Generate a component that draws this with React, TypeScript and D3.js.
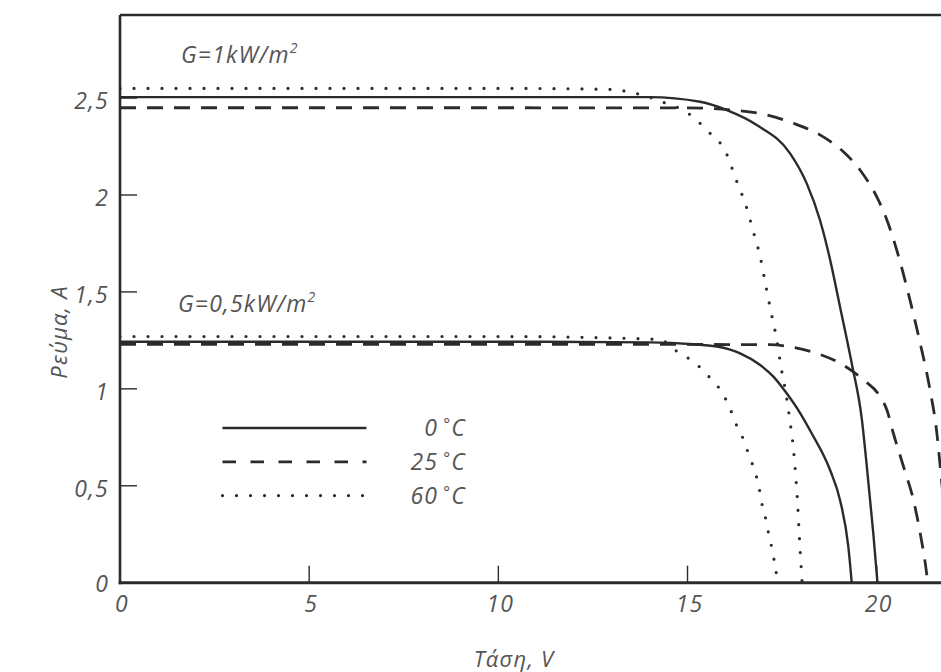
import React from "react";
import * as d3 from "d3";

// I–V curves: [voltage V, current A]
const g1_0C: [number, number][] = [
  [0, 2.505], [10, 2.505], [14.0, 2.505], [15.33, 2.481], [16.04, 2.438], [16.83, 2.361],
  [17.71, 2.215], [18.15, 2.06], [18.5, 1.871], [18.77, 1.665], [19.03, 1.424],
  [19.34, 1.132], [19.61, 0.839], [19.74, 0.598], [19.91, 0.255], [20.02, 0],
];
const g1_25C: [number, number][] = [
  [0, 2.45], [10, 2.45], [15.0, 2.449], [16.21, 2.438], [17.09, 2.413], [17.8, 2.37],
  [18.5, 2.31], [19.12, 2.223], [19.56, 2.129], [20.0, 1.991], [20.27, 1.871],
  [20.53, 1.716], [20.88, 1.458], [21.15, 1.235], [21.41, 0.994], [21.59, 0.772],
  [21.68, 0.597], [21.82, 0.3], [21.95, 0],
];
const g1_60C: [number, number][] = [
  [0, 2.55], [10, 2.55], [12.9, 2.545], [13.61, 2.525], [14.32, 2.481], [15.02, 2.421],
  [15.55, 2.327], [16.02, 2.218], [16.28, 2.081], [16.54, 1.948], [16.74, 1.811],
  [16.92, 1.682], [17.07, 1.531], [17.21, 1.393], [17.36, 1.252], [17.47, 1.114],
  [17.6, 0.977], [17.71, 0.831], [17.8, 0.688], [17.86, 0.55], [17.91, 0.41],
  [17.95, 0.258], [17.99, 0.121], [18.03, 0],
];
const g05_0C: [number, number][] = [
  [0, 1.243], [10, 1.243], [14.0, 1.24], [15.15, 1.23], [15.82, 1.217], [16.39, 1.183],
  [16.92, 1.123], [17.27, 1.063], [17.62, 0.977], [17.98, 0.874], [18.28, 0.771],
  [18.77, 0.58], [19.03, 0.427], [19.25, 0.186], [19.34, 0],
];
const g05_25C: [number, number][] = [
  [0, 1.23], [10, 1.23], [17.18, 1.228], [17.71, 1.217], [18.42, 1.183], [19.03, 1.132],
  [19.65, 1.046], [20.09, 0.96], [20.27, 0.891], [20.44, 0.771], [20.71, 0.598],
  [20.97, 0.427], [21.15, 0.255], [21.32, 0.048], [21.35, 0],
];
const g05_60C: [number, number][] = [
  [0, 1.27], [10, 1.27], [14.27, 1.255], [14.67, 1.2], [15.02, 1.158], [15.29, 1.118],
  [15.55, 1.066], [15.82, 1.008], [15.99, 0.954], [16.14, 0.891], [16.28, 0.819],
  [16.43, 0.762], [16.57, 0.688], [16.7, 0.619], [16.81, 0.556], [16.9, 0.482],
  [16.96, 0.413], [17.05, 0.344], [17.12, 0.275], [17.2, 0.206], [17.27, 0.134],
  [17.34, 0.062], [17.36, 0],
];

const xTicks = [5, 10, 15, 20];
const xTickLabels = ["0", "5", "10", "15", "20"];
const xLabelValues = [0, 5, 10, 15, 20];
const yTicks = [0.5, 1, 1.5, 2, 2.5];
const yTickLabels = ["0", "0,5", "1", "1,5", "2", "2,5"];
const yLabelValues = [0, 0.5, 1, 1.5, 2, 2.5];

const legendItems = [
  { label: "0", style: "solid" },
  { label: "25", style: "dashed" },
  { label: "60", style: "dotted" },
];

const INK = "#2b2b2b";
const TEXT = "#555";
const FONT = "'Open Sans', 'DejaVu Sans', sans-serif";
const FS = 23;
const LS = 1.2;

const W = 941, H = 672;
const x = d3.scaleLinear().domain([0, 20]).range([120, 876.7]);
const y = d3.scaleLinear().domain([0, 2]).range([582.7, 195]);

const line = d3
  .line<[number, number]>()
  .x((d) => x(d[0]))
  .y((d) => y(d[1]))
  .curve(d3.curveMonotoneX);

function dashFor(style: string) {
  if (style === "dashed") return { strokeDasharray: "16,11", strokeLinecap: "butt" as const, strokeWidth: 2.8 };
  if (style === "dotted") return { strokeDasharray: "0,14", strokeLinecap: "round" as const, strokeWidth: 3.2 };
  return { strokeDasharray: undefined, strokeLinecap: "butt" as const, strokeWidth: 2.4 };
}

export default function App() {
  const series = [
    { d: g1_0C, s: "solid" }, { d: g1_25C, s: "dashed" }, { d: g1_60C, s: "dotted" },
    { d: g05_0C, s: "solid" }, { d: g05_25C, s: "dashed" }, { d: g05_60C, s: "dotted" },
  ];
  const x0 = x(0), yTop = 15, yBot = y(0);
  return (
    <svg width={W} height={H} style={{ position: "absolute", left: 0, top: 0, background: "#fff" }} fontFamily={FONT}>
      <defs>
        <clipPath id="plot">
          <rect x={x0} y={yTop} width={W - x0} height={yBot - yTop} />
        </clipPath>
      </defs>
      <rect x={0} y={0} width={W} height={H} fill="#fff" />
      {/* curves */}
      <g clipPath="url(#plot)">
        {series.map((s, i) => {
          const st = dashFor(s.s);
          return (
            <path key={i} d={line(s.d) || ""} fill="none" stroke={INK}
              strokeWidth={st.strokeWidth} strokeDasharray={st.strokeDasharray} strokeLinecap={st.strokeLinecap} />
          );
        })}
      </g>
      {/* frame */}
      <line x1={x0} x2={x0} y1={yTop} y2={yBot + 1.5} stroke={INK} strokeWidth={2.6} />
      <line x1={x0} x2={W} y1={yTop} y2={yTop} stroke={INK} strokeWidth={2.6} />
      <line x1={x0 - 1.3} x2={W} y1={yBot} y2={yBot} stroke={INK} strokeWidth={3} />
      {/* ticks */}
      {yTicks.map((t) => (
        <line key={"yt" + t} x1={x0} x2={x0 + 17} y1={y(t)} y2={y(t)} stroke={INK} strokeWidth={1.4} />
      ))}
      {xTicks.map((t) => (
        <line key={"xt" + t} x1={x(t)} x2={x(t)} y1={yBot} y2={yBot - 17} stroke={INK} strokeWidth={1.4} />
      ))}
      {/* tick labels */}
      {yLabelValues.map((v, i) => (
        <text key={"yl" + v} x={109} y={y(v) + (v === 0 ? 1 : 3)} dy="0.35em" textAnchor="end"
          fontSize={FS} letterSpacing={LS} fontStyle="italic" fill={TEXT}>{yTickLabels[i]}</text>
      ))}
      {xLabelValues.map((v, i) => (
        <text key={"xl" + v} x={x(v) + 2} y={yBot + 21} dy="0.35em" textAnchor="middle"
          fontSize={FS} letterSpacing={LS} fontStyle="italic" fill={TEXT}>{xTickLabels[i]}</text>
      ))}
      {/* axis titles */}
      <text x={514} y={667} textAnchor="middle" fontSize={22} letterSpacing={LS} fontStyle="italic" fill={TEXT}>Τάση, V</text>
      <text transform="translate(67,332) rotate(-90)" textAnchor="middle" fontSize={22} letterSpacing={LS} fontStyle="italic" fill={TEXT}>Ρεύμα, A</text>
      {/* annotations */}
      <text x={181} y={63} fontSize={FS} letterSpacing={LS} fontStyle="italic" fill={TEXT}>
        G=1kW/m<tspan fontSize={14} dy={-10}>2</tspan>
      </text>
      <text x={178} y={312} fontSize={FS} letterSpacing={LS} fontStyle="italic" fill={TEXT}>
        G=0,5kW/m<tspan fontSize={14} dy={-10}>2</tspan>
      </text>
      {/* legend */}
      {legendItems.map((it, i) => {
        const st = dashFor(it.style);
        const ly = 428 + i * 33.8;
        return (
          <g key={"lg" + i}>
            <line x1={222.5} x2={366.5} y1={ly} y2={ly} stroke={INK}
              strokeWidth={st.strokeWidth} strokeLinecap={st.strokeLinecap}
              strokeDasharray={it.style === "dashed" ? "13.5,14.5" : st.strokeDasharray} />
            <text x={466} y={ly + 8} textAnchor="end" fontSize={FS} letterSpacing={LS} fontStyle="italic" fill={TEXT}>
              {it.label}<tspan fontSize={16} dx={5} dy={-6}>°</tspan><tspan dy={6}>C</tspan>
            </text>
          </g>
        );
      })}
    </svg>
  );
}
